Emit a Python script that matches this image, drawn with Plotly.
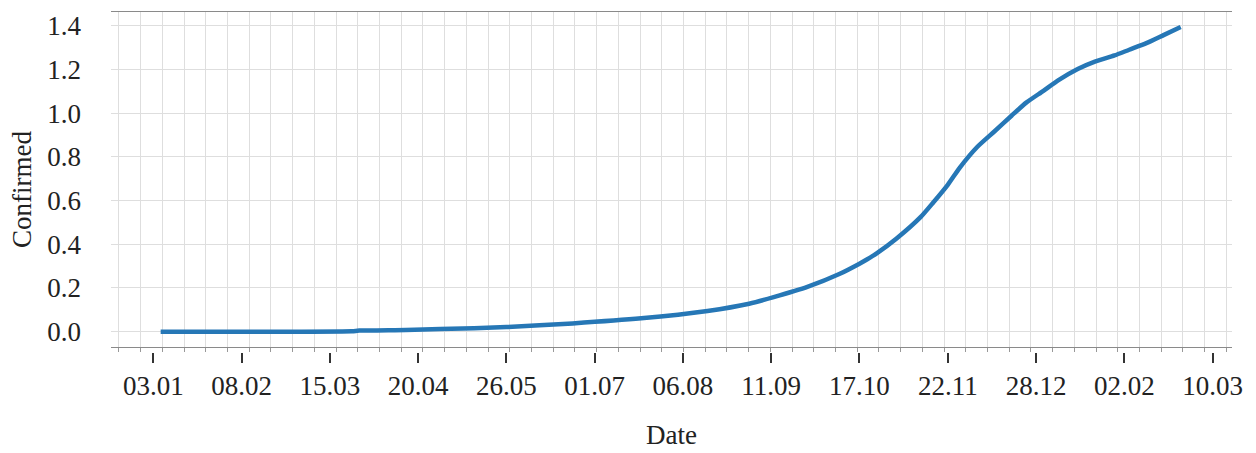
import plotly.graph_objects as go

# ---- data ----
dates = [
    "2020-01-06", "2020-02-01", "2020-03-01", "2020-03-24", "2020-03-27",
    "2020-04-15", "2020-04-29", "2020-05-26", "2020-06-22", "2020-07-20",
    "2020-08-16", "2020-09-02", "2020-09-12", "2020-09-26", "2020-10-09",
    "2020-10-17", "2020-10-20", "2020-10-24", "2020-11-01", "2020-11-11",
    "2020-11-16", "2020-11-22", "2020-11-27", "2020-12-04", "2020-12-11",
    "2020-12-18", "2020-12-24", "2020-12-31", "2021-01-06", "2021-01-14",
    "2021-01-21", "2021-01-29", "2021-02-04", "2021-02-11", "2021-02-18",
    "2021-02-25",
]
confirmed = [
    0.000, 0.000, 0.000, 0.002, 0.005,
    0.008, 0.012, 0.021, 0.038, 0.061,
    0.095, 0.128, 0.158, 0.206, 0.265,
    0.311, 0.330, 0.358, 0.425, 0.525,
    0.590, 0.672, 0.752, 0.845, 0.916,
    0.988, 1.048, 1.102, 1.150, 1.202,
    1.236, 1.264, 1.290, 1.320, 1.357,
    1.394,
]
tick_dates = [
    "2020-01-03", "2020-02-08", "2020-03-15", "2020-04-20", "2020-05-26",
    "2020-07-01", "2020-08-06", "2020-09-11", "2020-10-17", "2020-11-22",
    "2020-12-28", "2021-02-02", "2021-03-10",
]
tick_labels = ["03.01", "08.02", "15.03", "20.04", "26.05", "01.07", "06.08",
               "11.09", "17.10", "22.11", "28.12", "02.02", "10.03"]
y_ticks = [0.0, 0.2, 0.4, 0.6, 0.8, 1.0, 1.2, 1.4]

FONT = "Liberation Serif"
x_range = ["2019-12-16 18:00", "2021-03-17 22:00"]
grid_col = "#dedede"

# page body has an 8px margin: lay the figure out in shifted coordinates
OFF = 8
W, H = 1256 - OFF, 453 - OFF
mt, mb, ml, mr = 12 - OFF, 52, 111 - OFF, 24
plot_h = H - mt - mb
ydom0 = (H - mb - (346.7 - OFF)) / plot_h
xpos2 = (H - mb - (351.5 - OFF)) / plot_h

fig = go.Figure()
fig.add_trace(go.Scatter(
    x=dates, y=confirmed, mode="lines",
    line=dict(color="#2677b6", width=4.5, shape="spline", smoothing=0.6),
    showlegend=False, xaxis="x", yaxis="y",
))
# invisible trace to activate second x-axis
fig.add_trace(go.Scatter(
    x=[dates[0]], y=[confirmed[0]], mode="markers", marker=dict(opacity=0),
    showlegend=False, xaxis="x2", yaxis="y", hoverinfo="skip",
))

fig.update_layout(
    width=W, height=H,
    margin=dict(l=ml, r=mr, t=mt, b=mb, autoexpand=False),
    paper_bgcolor="white", plot_bgcolor="white",
    font=dict(family=FONT, size=27, color="#222222"),
    xaxis=dict(
        type="date", range=x_range,
        tick0="2019-12-20", dtick=765072000,
        showticklabels=False, ticks="outside", ticklen=4, tickwidth=1,
        tickcolor="#999999",
        showgrid=True, gridcolor=grid_col, gridwidth=1,
        showline=True, linecolor="#8a8a8a", linewidth=1, mirror=True,
        zeroline=False, anchor="y",
    ),
    xaxis2=dict(
        type="date", range=x_range, overlaying="x", anchor="free",
        position=xpos2, side="bottom",
        tickmode="array", tickvals=tick_dates, ticktext=tick_labels,
        ticks="outside", ticklen=10, tickwidth=1.5, tickcolor="#333333",
        showline=False, showgrid=False, zeroline=False,
        tickfont=dict(family=FONT, size=27, color="#222222"),
        ticklabelstandoff=0,
    ),
    yaxis=dict(
        domain=[ydom0, 1], range=[-0.0687, 1.4627],
        tickvals=y_ticks, tickformat=".1f",
        showgrid=True, gridcolor=grid_col, gridwidth=1,
        ticks="", zeroline=False, showline=False,
        ticklabelstandoff=29,
        tickfont=dict(family=FONT, size=27, color="#222222"),
    ),
    annotations=[
        dict(text="Date", xref="paper", yref="paper",
             x=0.5, y=(H - mb - (435 - OFF)) / plot_h, xanchor="center", yanchor="middle",
             showarrow=False, font=dict(family=FONT, size=27, color="#222222")),
        dict(text="Confirmed", xref="paper", yref="paper",
             x=(22 - 111) / (1256 - 111 - 24), y=(H - mb - (190 - OFF)) / plot_h,
             xanchor="center", yanchor="middle", textangle=-90,
             showarrow=False, font=dict(family=FONT, size=27, color="#222222")),
    ],
)

fig.write_html("out.html")
